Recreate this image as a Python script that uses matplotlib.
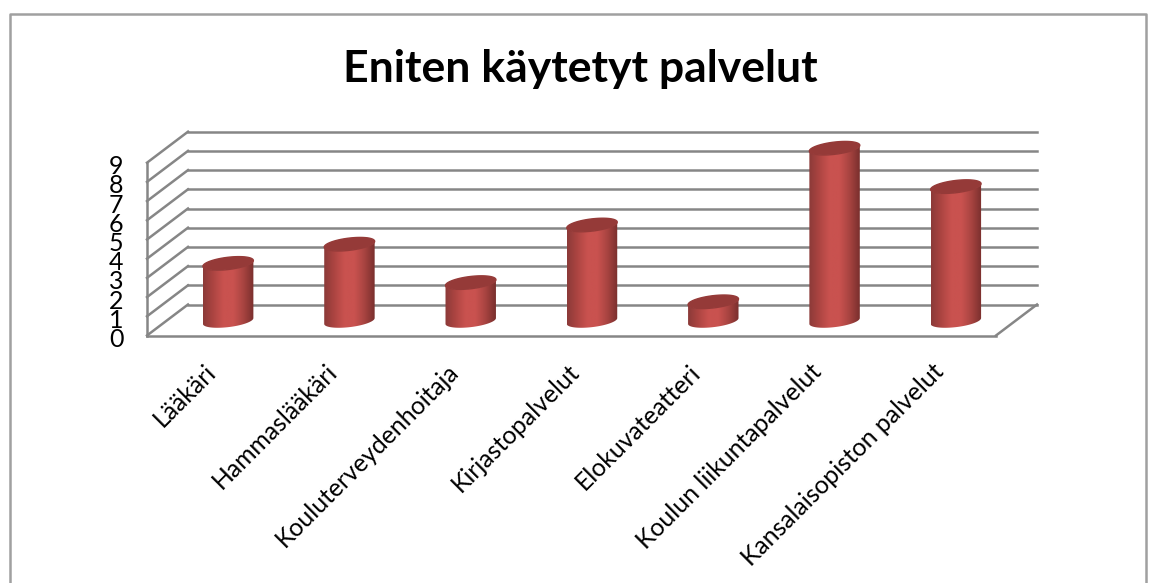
import numpy as np
import matplotlib.pyplot as plt
from matplotlib.colors import LinearSegmentedColormap
from matplotlib.lines import Line2D
from matplotlib.patches import Polygon
from matplotlib.transforms import Affine2D, IdentityTransform

plt.rcParams["font.family"] = ["Lato", "DejaVu Sans"]

categories = ["Lääkäri", "Hammaslääkäri", "Kouluterveydenhoitaja", "Kirjastopalvelut",
              "Elokuvateatteri", "Koulun liikuntapalvelut", "Kansalaisopiston palvelut"]
values = [3, 4, 2, 5, 1, 9, 7]
y_ticks = list(range(10))
title = "Eniten käytetyt palvelut"

W, H = 1152, 583
GRID = "#868686"
BORDER = "#a0a0a0"

fig = plt.figure(figsize=(W / 100, H / 100), dpi=100, facecolor="white")

# the axes is the front edge of the fake 3D box
ax = fig.add_axes([147 / W, (H - 335.5) / H, 849 / W, 172.8 / H])
ax.set_xlim(-0.5, 6.5)
ax.set_ylim(0, 9)
ax.patch.set_visible(False)
for s in ax.spines.values():
    s.set_visible(False)

mid = ax.transData + Affine2D().translate(20.5, 14.5)
back = ax.transData + Affine2D().translate(41, 31)


def depth_line(x, y):
    # diagonal going from the front edge to the back wall
    x0, y0 = ax.transData.transform((x, y))
    ax.add_line(Line2D([x0, x0 + 41], [y0, y0 + 31], color=GRID, lw=1.8,
                       transform=IdentityTransform(), clip_on=False, zorder=1))


# gridlines on the back wall and the left side wall
for v in y_ticks:
    ax.plot([-0.5, 6.5], [v, v], color=GRID, lw=1.8, transform=back, clip_on=False, zorder=1)
    depth_line(-0.5, v)

# floor and left edge
ax.plot([-0.5, 6.5], [0, 0], color=GRID, lw=1.8, clip_on=False, zorder=1)
ax.plot([-0.5, -0.5], [0, 9], color=GRID, lw=1.8, clip_on=False, zorder=1)
depth_line(6.5, 0)

# cylinders
half_w = 0.208
ell_h = 0.32
ell_skew = 0.15
shade = LinearSegmentedColormap.from_list(
    "cyl", ["#8c3a38", "#ad4542", "#c9524f", "#c9524f", "#a84441", "#7a2f2d"])
t = np.linspace(0, 2 * np.pi, 80)

for i, v in enumerate(values):
    ex = i + half_w * np.cos(t)
    ey_c = ell_h * np.sin(t) + ell_skew * np.cos(t)

    # side of the cylinder: lower half of the base + upper outline along the top
    low = np.sin(t) <= 0
    order = np.argsort(ex[low])
    bx, by = ex[low][order], ey_c[low][order]
    side = np.column_stack([np.r_[bx, bx[::-1]], np.r_[by, by[::-1] + v]])
    poly = Polygon(side, closed=True, transform=mid, facecolor="none", edgecolor="none")
    ax.add_patch(poly)
    poly.set_clip_on(False)
    im = ax.imshow(np.linspace(0, 1, 64).reshape(1, -1), cmap=shade, aspect="auto",
                   extent=[i - half_w, i + half_w, -1, v + 1], transform=mid, zorder=3)
    # images get cut at the axes box unless given a bigger one
    im.set_clip_box(fig.bbox)
    im.set_clip_path(poly)

    ax.fill(ex, ey_c + v, color="#953a38", transform=mid, clip_on=False, zorder=4)

ax.set_xlim(-0.5, 6.5)
ax.set_ylim(0, 9)

ax.set_yticks(y_ticks)
ax.set_yticklabels([str(v) for v in y_ticks], fontsize=18, color="black", va="center_baseline")
ax.tick_params(axis="y", length=0, pad=17)
ax.set_xticks(range(len(categories)))
ax.set_xticklabels(categories, rotation=45, ha="right", rotation_mode="anchor",
                   fontsize=17.8, color="black")
ax.tick_params(axis="x", length=0, pad=17)

nudge = Affine2D().translate(-4, -1)
for lab in ax.get_xticklabels():
    lab.set_transform(lab.get_transform() + nudge)
nudge_y = Affine2D().translate(0, -2)
for lab in ax.get_yticklabels():
    lab.set_transform(lab.get_transform() + nudge_y)

fig.text(580.5 / W, (H - 69) / H, title, fontsize=32, fontweight="bold", ha="center", va="center")

# chart frame, bottom edge is cut off in the source
fig.add_artist(Line2D([9.5 / W, 9.5 / W, 1146 / W, 1146 / W],
                      [0, (H - 14) / H, (H - 14) / H, 0], color=BORDER, lw=1.8))

fig.savefig("out.png", dpi=100)
